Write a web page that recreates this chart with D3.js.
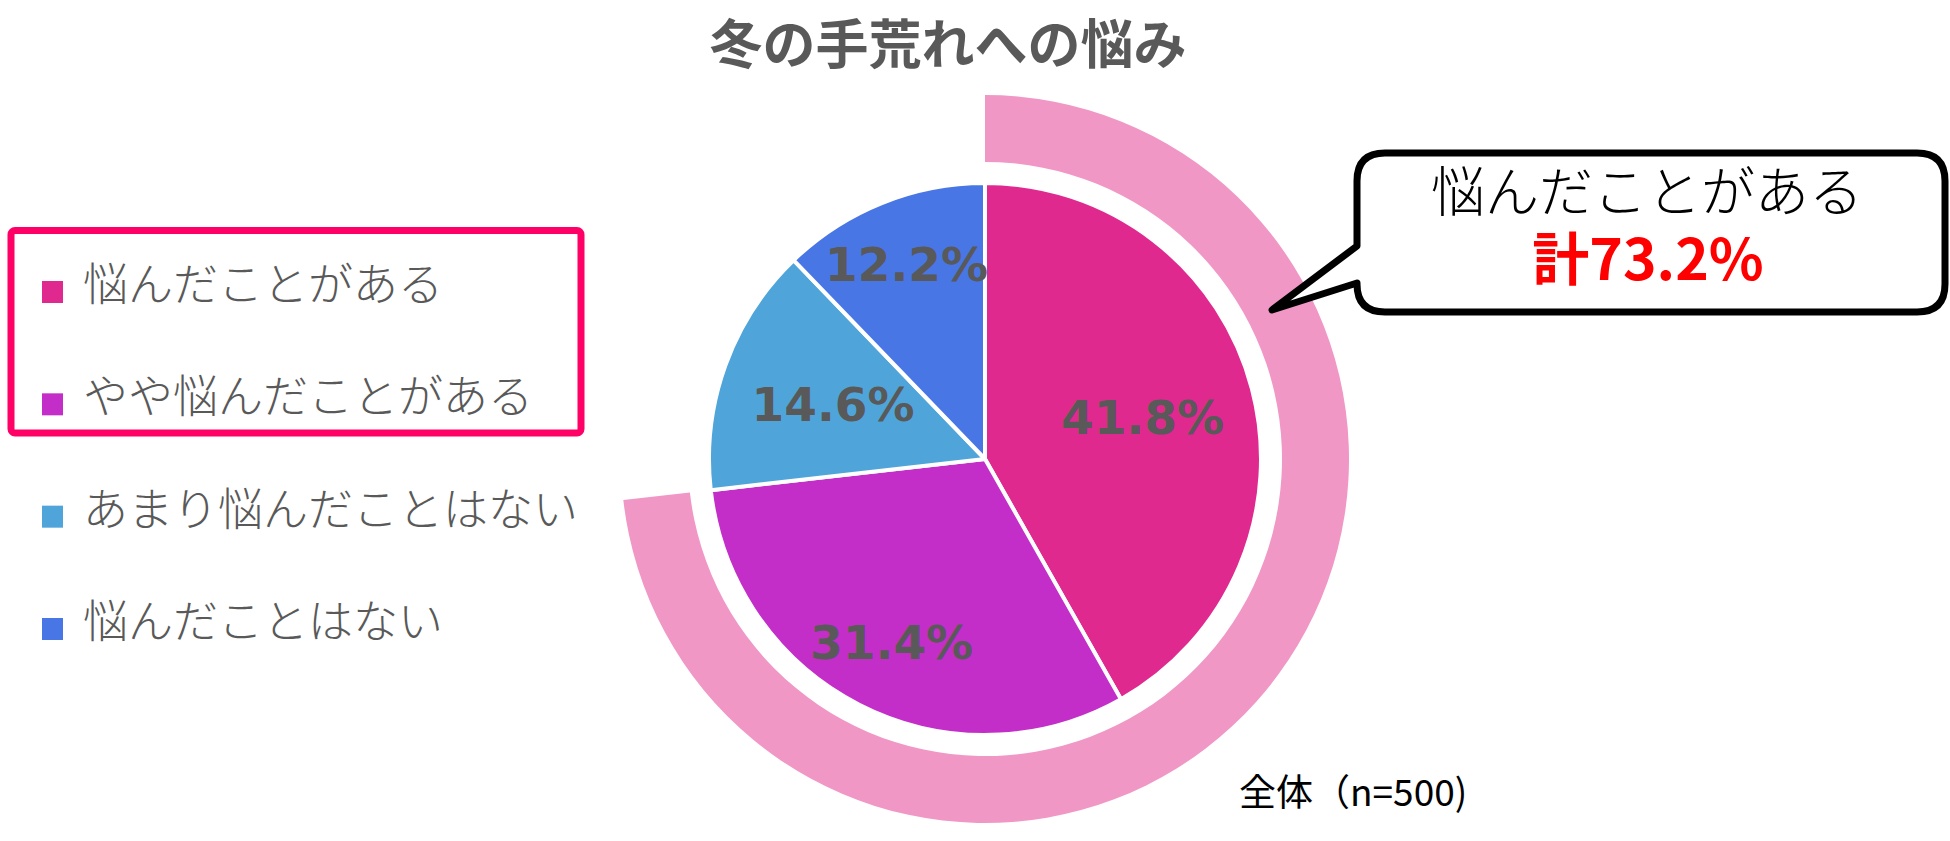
<!DOCTYPE html>
<html>
<head>
<meta charset="utf-8">
<script src="https://cdn.jsdelivr.net/npm/d3@7"></script>
<style>
    body { margin: 0; background: #fff; }
    svg { display: block; }
</style>
</head>
<body>
<svg id="chart" width="1950" height="841"></svg>
<script>
const categories = ['悩んだことがある', 'やや悩んだことがある', 'あまり悩んだことはない', '悩んだことはない']
const values = [41.8, 31.4, 14.6, 12.2]
const colors = ['#e0298f', '#c42ec8', '#4fa5da', '#4876e4']
const totalLabel = '計73.2%'
const title = '冬の手荒れへの悩み'
const note = '全体（n=500)'

const svg = d3.select('#chart')
const cx = 985, cy = 459
const radius = 276

// title
svg.append('text')
    .attr('x', 948)
    .attr('y', 64)
    .attr('text-anchor', 'middle')
    .style('font-family', '"Noto Sans CJK JP"')
    .style('font-weight', 'bold')
    .style('font-size', '53px')
    .style('fill', '#595959')
    .text(title)

const g = svg.append('g').attr('transform', `translate(${cx},${cy})`)

// outer ring for the first two categories
const ringValue = values[0] + values[1]
const ring = d3.arc()
    .innerRadius(297)
    .outerRadius(364)
    .startAngle(0)
    .endAngle(2 * Math.PI * ringValue / 100)
g.append('path')
    .attr('d', ring())
    .style('fill', '#f097c6')

const pie = d3.pie().sort(null).startAngle(0).endAngle(2 * Math.PI)
const arcs = pie(values)
const arc = d3.arc().innerRadius(0).outerRadius(radius)

g.selectAll('path.slice')
    .data(arcs)
    .enter().append('path')
    .attr('class', 'slice')
    .attr('d', arc)
    .style('fill', (d, i) => colors[i])
    .style('stroke', '#fff')
    .style('stroke-width', 4)
    .style('stroke-linejoin', 'round')

// label distance from the centre, as share of the radius (Excel best fit)
const labelDist = [0.59, 0.745, 0.585, 0.76]
g.selectAll('text.pct')
    .data(arcs)
    .enter().append('text')
    .attr('class', 'pct')
    .attr('transform', (d, i) => {
        const a = (d.startAngle + d.endAngle) / 2
        const r = radius * labelDist[i]
        return `translate(${Math.sin(a) * r},${-Math.cos(a) * r})`
    })
    .attr('text-anchor', 'middle')
    .attr('dy', '0.36em')
    .style('font-family', '"DejaVu Sans"')
    .style('font-weight', 'bold')
    .style('font-size', '47px')
    .style('fill', '#595959')
    .text(d => d.data.toFixed(1) + '%')

// legend
const legend = svg.append('g')
const rowY = d3.scalePoint().domain(categories).range([285, 622])
const items = legend.selectAll('g.item')
    .data(categories)
    .enter().append('g')
    .attr('class', 'item')
    .attr('transform', d => `translate(0,${rowY(d)})`)
items.append('rect')
    .attr('x', 42)
    .attr('y', -4)
    .attr('width', 21)
    .attr('height', 22)
    .style('fill', (d, i) => colors[i])
items.append('text')
    .attr('x', 83)
    .attr('y', 16)
    .style('font-family', '"Noto Sans CJK JP"')
    .style('font-weight', 300)
    .style('font-size', '45px')
    .style('fill', '#595959')
    .text(d => d)

legend.append('rect')
    .attr('x', 11)
    .attr('y', 230.5)
    .attr('width', 570)
    .attr('height', 202.5)
    .attr('rx', 4)
    .style('fill', 'none')
    .style('stroke', '#ff0066')
    .style('stroke-width', 7)

// speech balloon
const bx0 = 1357, bx1 = 1945, by0 = 153, by1 = 312, br = 28
const balloon = d3.path()
balloon.moveTo(bx0 + br, by0)
balloon.lineTo(bx1 - br, by0)
balloon.quadraticCurveTo(bx1, by0, bx1, by0 + br)
balloon.lineTo(bx1, by1 - br)
balloon.quadraticCurveTo(bx1, by1, bx1 - br, by1)
balloon.lineTo(bx0 + br, by1)
balloon.quadraticCurveTo(bx0, by1, bx0, by1 - br)
balloon.lineTo(bx0, 283)
balloon.lineTo(1272, 310)
balloon.lineTo(bx0, 246)
balloon.lineTo(bx0, by0 + br)
balloon.quadraticCurveTo(bx0, by0, bx0 + br, by0)
balloon.closePath()
svg.append('path')
    .attr('d', balloon.toString())
    .style('fill', '#fff')
    .style('stroke', '#000')
    .style('stroke-width', 7)
    .style('stroke-linejoin', 'round')

// balloon text, two lines in one text element
const callout = svg.append('text')
    .attr('text-anchor', 'middle')
    .style('font-family', '"Noto Sans CJK JP"')
callout.append('tspan')
    .attr('x', 1647)
    .attr('y', 212)
    .style('font-weight', 300)
    .style('font-size', '54px')
    .style('fill', '#000')
    .text(categories[0])
callout.append('tspan')
    .attr('x', 1648)
    .attr('y', 280)
    .style('font-weight', 'bold')
    .style('font-size', '57px')
    .style('fill', '#ff0000')
    .text(totalLabel)

svg.append('text')
    .attr('x', 1239)
    .attr('y', 806)
    .style('font-family', '"Noto Sans CJK JP"')
    .style('font-size', '37px')
    .style('fill', '#000')
    .text(note)
</script>
</body>
</html>
